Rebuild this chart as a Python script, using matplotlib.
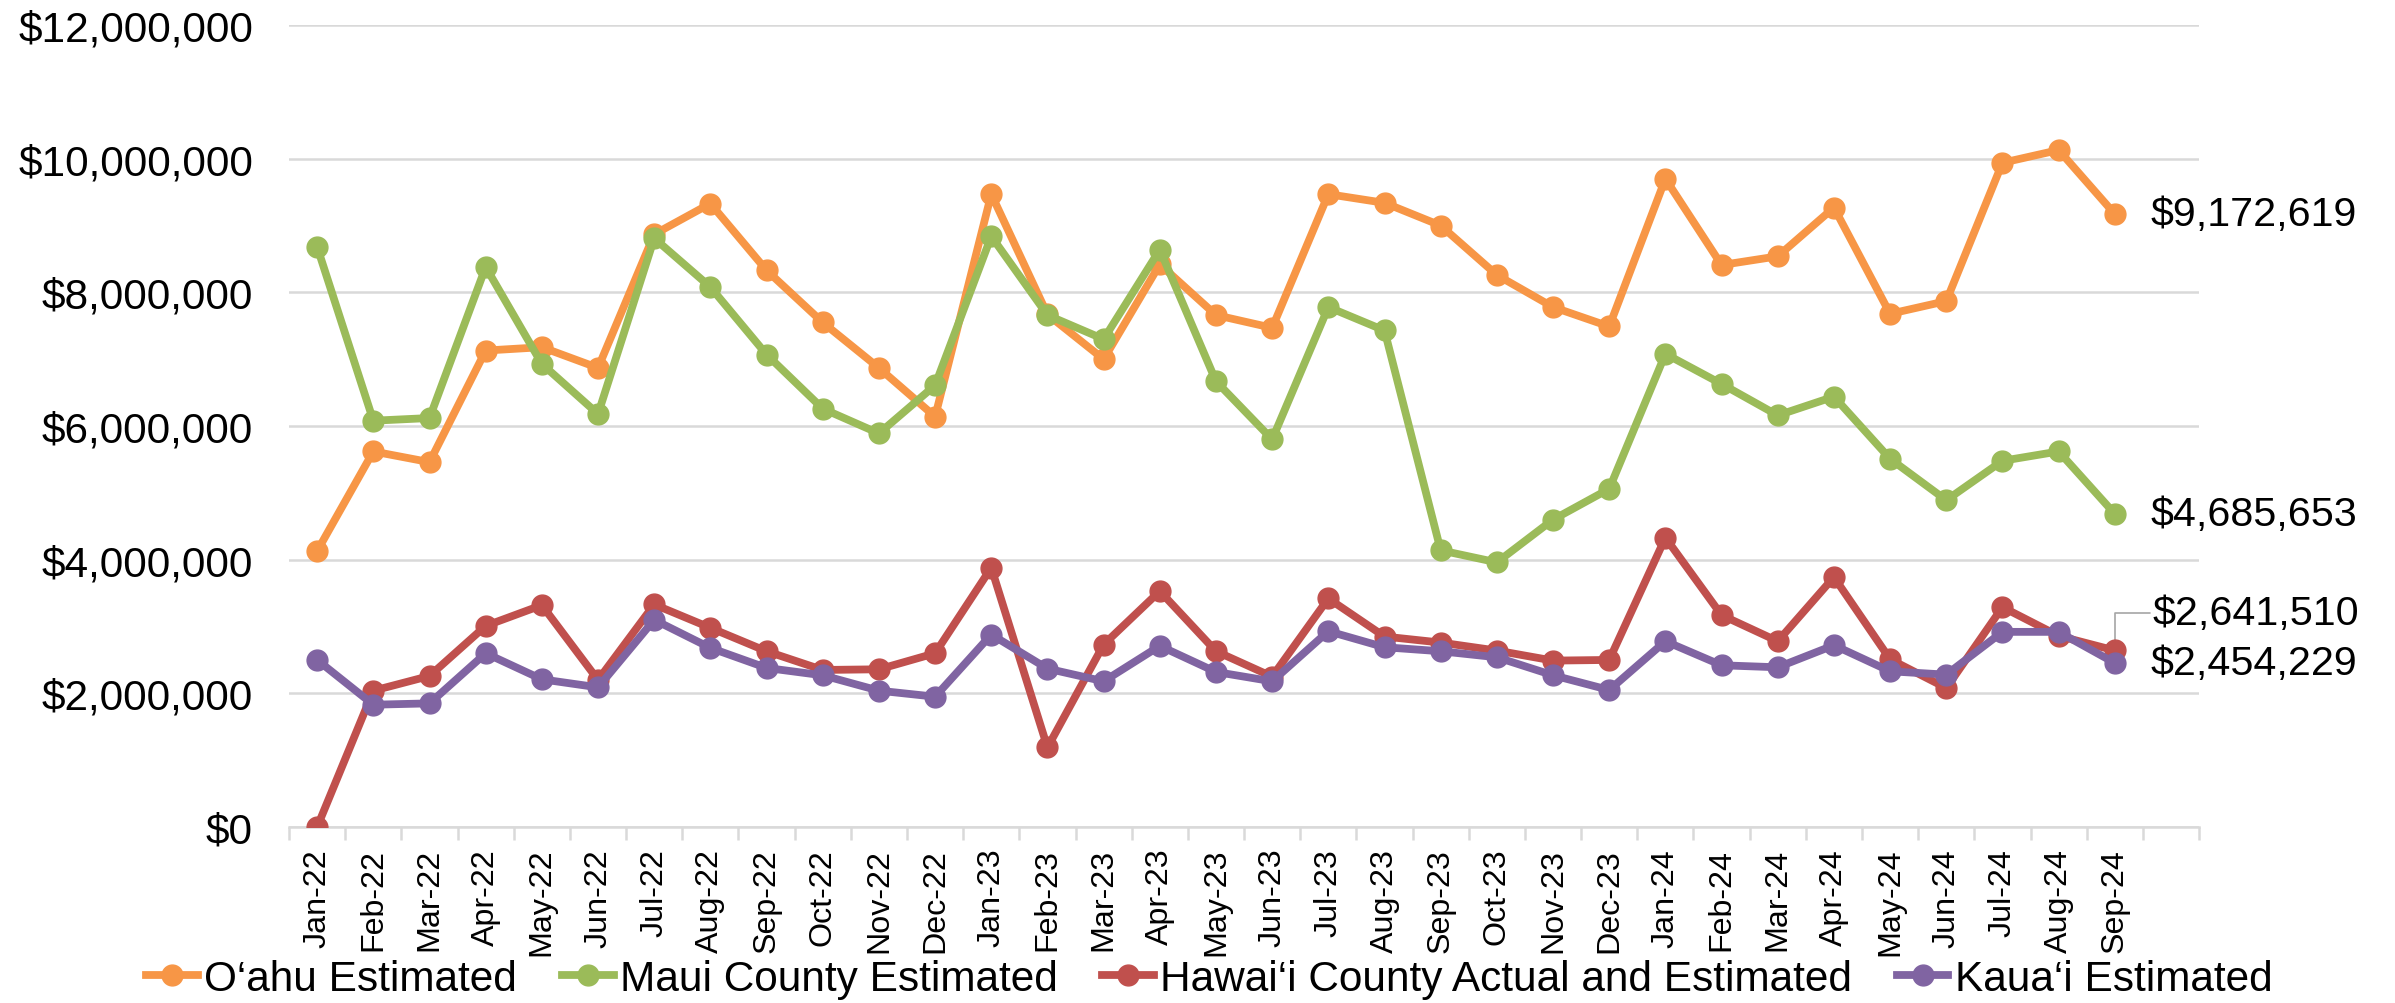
import matplotlib
matplotlib.use("Agg")
import matplotlib.pyplot as plt
from matplotlib.ticker import FuncFormatter, FixedLocator
import numpy as np

plt.rcParams['font.family'] = ['Liberation Sans', 'DejaVu Sans']

months = ["Jan-22", "Feb-22", "Mar-22", "Apr-22", "May-22", "Jun-22", "Jul-22", "Aug-22",
          "Sep-22", "Oct-22", "Nov-22", "Dec-22", "Jan-23", "Feb-23", "Mar-23", "Apr-23",
          "May-23", "Jun-23", "Jul-23", "Aug-23", "Sep-23", "Oct-23", "Nov-23", "Dec-23",
          "Jan-24", "Feb-24", "Mar-24", "Apr-24", "May-24", "Jun-24", "Jul-24", "Aug-24",
          "Sep-24"]

oahu = [4130000, 5620000, 5460000, 7130000, 7180000, 6870000, 8870000, 9330000, 8330000,
        7550000, 6870000, 6140000, 9470000, 7670000, 7000000, 8420000, 7660000, 7470000,
        9470000, 9340000, 9000000, 8260000, 7780000, 7490000, 9700000, 8410000, 8540000,
        9270000, 7680000, 7870000, 9940000, 10130000, 9172619]

maui = [8680000, 6080000, 6120000, 8380000, 6930000, 6180000, 8810000, 8080000, 7070000,
        6260000, 5890000, 6610000, 8840000, 7660000, 7300000, 8640000, 6670000, 5800000,
        7780000, 7430000, 4140000, 3960000, 4600000, 5060000, 7080000, 6630000, 6160000,
        6440000, 5510000, 4890000, 5480000, 5620000, 4685653]

hawaii = [0, 2040000, 2260000, 3010000, 3320000, 2200000, 3330000, 2980000, 2630000,
          2350000, 2360000, 2600000, 3880000, 1190000, 2730000, 3530000, 2630000, 2250000,
          3420000, 2850000, 2760000, 2640000, 2490000, 2500000, 4330000, 3170000, 2780000,
          3740000, 2510000, 2080000, 3290000, 2860000, 2641510]

kauai = [2500000, 1830000, 1850000, 2600000, 2210000, 2090000, 3100000, 2680000, 2380000,
         2270000, 2040000, 1950000, 2880000, 2370000, 2180000, 2710000, 2320000, 2180000,
         2930000, 2690000, 2630000, 2540000, 2270000, 2050000, 2780000, 2420000, 2390000,
         2720000, 2330000, 2280000, 2920000, 2920000, 2454229]

series_names = ["O\u2018ahu Estimated", "Maui County Estimated",
                "Hawai\u2018i County Actual and Estimated", "Kaua\u2018i Estimated"]
series_colors = ["#F79646", "#9BBB59", "#C0504D", "#8064A2"]
yticks = [0, 2000000, 4000000, 6000000, 8000000, 10000000, 12000000]

fig = plt.figure(figsize=(23.95, 10.04), dpi=100)
ax = fig.add_axes([0.1207, 0.1753, 0.7975, 0.7987])

x = np.arange(len(months))
all_series = [oahu, maui, hawaii, kauai]
for i, (vals, name, col) in enumerate(zip(all_series, series_names, series_colors)):
    ax.plot(x, vals, color=col, lw=5.6, marker='o', markersize=15,
            label=name, zorder=3 + i, solid_joinstyle='round')

ax.set_xlim(-0.5, len(months) + 0.5)
ax.set_ylim(0, 12000000)
ax.yaxis.set_major_locator(FixedLocator(yticks))
ax.yaxis.set_major_formatter(FuncFormatter(lambda v, p: "${:,.0f}".format(v)))
ax.tick_params(axis='y', length=0, pad=26, labelsize=30.5)
ax.grid(axis='y', color='#D9D9D9', lw=1.8, zorder=0)

ax.set_xticks(x)
ax.set_xticklabels(months, rotation=90, fontsize=23.2)
ax.set_xticks(np.arange(-0.5, len(months) + 1.0, 1.0), minor=True)
ax.tick_params(axis='x', which='major', length=0, pad=15)
ax.tick_params(axis='x', which='minor', length=9, width=1.8, color='#D9D9D9')

for s in ['top', 'right', 'left']:
    ax.spines[s].set_visible(False)
ax.spines['bottom'].set_color('#D9D9D9')
ax.spines['bottom'].set_linewidth(1.8)
ax.set_axisbelow(True)

last = len(months) - 1
ax.annotate("${:,.0f}".format(oahu[-1]), xy=(last, oahu[-1]), xytext=(26, 0),
            textcoords='offset points', va='center', ha='left', fontsize=29.7)
ax.annotate("${:,.0f}".format(maui[-1]), xy=(last, maui[-1]), xytext=(26, 0),
            textcoords='offset points', va='center', ha='left', fontsize=29.7)
ax.annotate("${:,.0f}".format(hawaii[-1]), xy=(last, hawaii[-1]), xytext=(27, 27),
            textcoords='offset points', va='center', ha='left', fontsize=29.7,
            arrowprops=dict(arrowstyle='-', color='#A6A6A6', lw=1.2,
                            connectionstyle='angle,angleA=0,angleB=90,rad=0',
                            shrinkA=0, shrinkB=6))
ax.annotate("${:,.0f}".format(kauai[-1]), xy=(last, kauai[-1]), xytext=(26, 0),
            textcoords='offset points', va='center', ha='left', fontsize=29.7)

leg = fig.legend(loc='center', bbox_to_anchor=(0.505, 0.024), ncol=4, frameon=False,
                 fontsize=30.5, handlelength=1.22, handletextpad=0.15, columnspacing=1.05,
                 borderaxespad=0)

fig.savefig("out.png", dpi=100)
